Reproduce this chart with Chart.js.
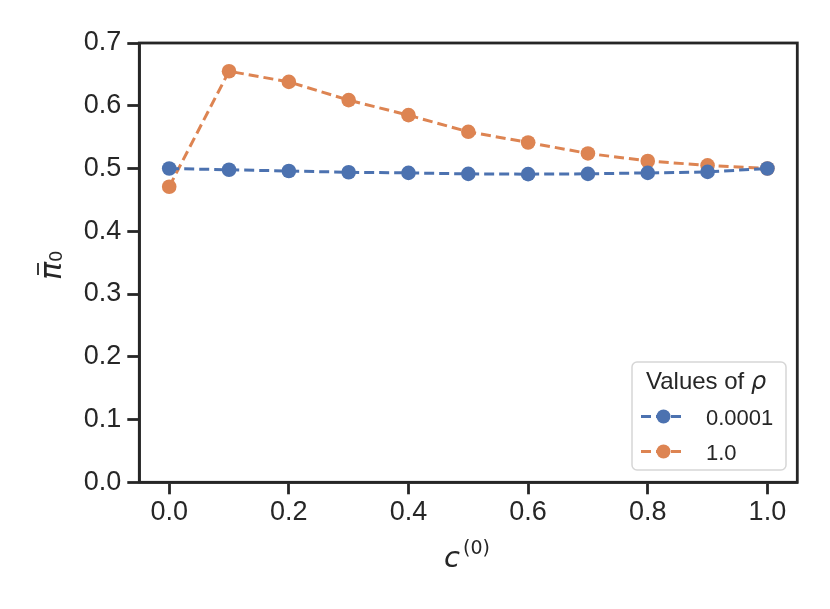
<!DOCTYPE html>
<html><head><meta charset="utf-8">
<script src="https://cdn.jsdelivr.net/npm/chart.js@4"></script>
<style>html,body{margin:0;padding:0;background:#fff}#wrap{width:830px;height:609px}</style>
</head><body><div id="wrap"><canvas id="c" width="830" height="609"></canvas></div>
<script>
const categories = [0.0, 0.1, 0.2, 0.3, 0.4, 0.5, 0.6, 0.7, 0.8, 0.9, 1.0];
const rhoSmall = [0.500, 0.498, 0.496, 0.494, 0.493, 0.4915, 0.491, 0.4915, 0.493, 0.4946, 0.500];
const rhoOne = [0.471, 0.655, 0.638, 0.609, 0.585, 0.5585, 0.5415, 0.524, 0.512, 0.505, 0.500];
const seriesNames = ['0.0001', '1.0'];
const xTicks = [0, 0.2, 0.4, 0.6, 0.8, 1.0];
const yTicks = [0, 0.1, 0.2, 0.3, 0.4, 0.5, 0.6, 0.7];
const colors = ['#4c72b0', '#dd8452'];
const DARK = '#262626';
const FONT = '"Liberation Sans", Arial, sans-serif';
const MATH = '"DejaVu Sans", sans-serif';

const frame = {
  id: 'frame',
  afterDraw(chart) {
    const {ctx, chartArea: a} = chart;
    ctx.save();
    ctx.strokeStyle = DARK; ctx.lineWidth = 2.8;
    ctx.strokeRect(a.left, a.top, a.right - a.left, a.bottom - a.top);
    ctx.fillStyle = DARK;
    ctx.textBaseline = 'alphabetic';
    ctx.textAlign = 'left';
    // x axis title: c^(0)
    ctx.font = 'italic 29px ' + MATH;
    ctx.fillText('c', 444, 567);
    ctx.font = '19px ' + MATH;
    ctx.fillText('(0)', 463, 554);
    // y axis title: pi bar sub 0
    ctx.save();
    ctx.translate(61, 264);
    ctx.rotate(-Math.PI / 2);
    ctx.font = 'italic 30px ' + MATH;
    ctx.fillText('π', -16, 0);
    ctx.lineWidth = 1.8;
    ctx.beginPath(); ctx.moveTo(-11, -23); ctx.lineTo(1, -23); ctx.stroke();
    ctx.font = '18px ' + MATH;
    ctx.fillText('0', 2, 1);
    ctx.restore();
    // legend
    const lx = 632, ly = 362, lw = 154, lh = 108;
    ctx.fillStyle = 'rgba(255,255,255,0.8)';
    ctx.strokeStyle = '#d6d6d6'; ctx.lineWidth = 1.5;
    ctx.beginPath();
    if (ctx.roundRect) ctx.roundRect(lx, ly, lw, lh, 5); else ctx.rect(lx, ly, lw, lh);
    ctx.fill(); ctx.stroke();
    ctx.fillStyle = DARK;
    ctx.font = '24px ' + FONT;
    const t1 = 'Values of ';
    const t1w = ctx.measureText(t1).width;
    ctx.fillText(t1, 646, 389);
    ctx.font = 'italic 24px ' + MATH;
    ctx.fillText('ρ', 646 + t1w, 389);
    const rows = [416.5, 451.5];
    seriesNames.forEach((n, i) => {
      const yy = rows[i];
      ctx.strokeStyle = colors[i]; ctx.lineWidth = 3;
      ctx.setLineDash([10, 5]);
      ctx.beginPath(); ctx.moveTo(641, yy); ctx.lineTo(686, yy); ctx.stroke();
      ctx.setLineDash([]);
      ctx.fillStyle = colors[i];
      ctx.beginPath(); ctx.arc(663.5, yy, 7, 0, Math.PI * 2); ctx.fill();
      ctx.fillStyle = DARK;
      ctx.font = '22px ' + FONT;
      ctx.fillText(n, 706, yy + 8);
    });
    ctx.restore();
  }
};

const mk = (vals) => categories.map((x, i) => ({x, y: vals[i]}));
const ds = (i, vals) => ({
  label: seriesNames[i], data: mk(vals), borderColor: colors[i], backgroundColor: colors[i],
  borderDash: [10, 5], borderWidth: 3, pointRadius: 7.3, pointHoverRadius: 7.3, pointBorderWidth: 0,
  fill: false, tension: 0
});

new Chart(document.getElementById('c'), {
  type: 'line',
  data: {datasets: [ds(0, rhoSmall), ds(1, rhoOne)]},
  options: {
    responsive: false, animation: false,
    devicePixelRatio: 1,
    layout: {padding: {left: 0, top: 43, right: 32.7, bottom: 0}},
    plugins: {legend: {display: false}, tooltip: {enabled: false}},
    scales: {
      x: {
        type: 'linear', min: -0.05, max: 1.05,
        afterBuildTicks: (s) => { s.ticks = xTicks.map(v => ({value: v})); },
        afterFit: (s) => { s.height = 126.7; },
        grid: {drawOnChartArea: false, drawTicks: true, tickLength: 12, tickColor: DARK, tickWidth: 2.8},
        border: {display: true, color: DARK, width: 2.8},
        ticks: {color: DARK, font: {family: FONT, size: 27}, padding: 2, maxRotation: 0,
                callback: (v) => Number(v).toFixed(1)}
      },
      y: {
        type: 'linear', min: 0, max: 0.7,
        afterBuildTicks: (s) => { s.ticks = yTicks.map(v => ({value: v})); },
        afterFit: (s) => { s.width = 139.3; },
        grid: {drawOnChartArea: false, drawTicks: true, tickLength: 12, tickColor: DARK, tickWidth: 2.8},
        border: {display: true, color: DARK, width: 2.8},
        ticks: {color: DARK, font: {family: FONT, size: 27}, padding: 6,
                callback: (v) => Number(v).toFixed(1)}
      }
    }
  },
  plugins: [frame]
});
</script></body></html>
